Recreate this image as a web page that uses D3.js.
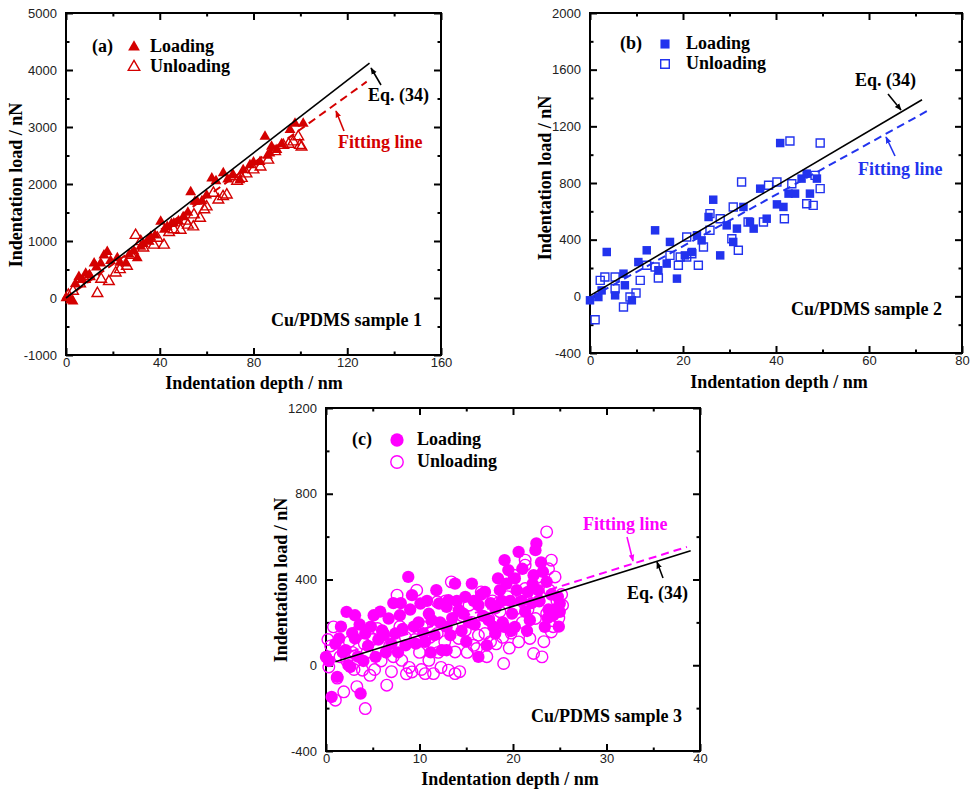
<!DOCTYPE html>
<html>
<head>
<meta charset="utf-8">
<script src="https://cdn.jsdelivr.net/npm/d3@7/dist/d3.min.js"></script>
<style>
  html, body { margin: 0; padding: 0; background: #fff; }
  svg { display: block; }
</style>
</head>
<body>
<svg id="chart" width="971" height="791"></svg>
<script>
// ---------------- DATA ----------------
// Panel (a): Cu/PDMS sample 1
const aLoading = [[0,0],[2,-40],[3,-60],[4,250],[5.5,370],[7,320],[8.4,430],[10,400],[12,610],[13,540],
  [14.8,610],[16.2,750],[17.6,810],[19,650],[21.9,700],[23,620],[25.5,610],[27,760],[29,820],[30.4,700],
  [31.9,900],[33,950],[35,1000],[36.1,1075],[38,1100],[40.4,1340],[42,1200],[43.2,1250],[45,1300],[46,1310],
  [48,1350],[50,1420],[52,1500],[53.2,1860],[55,1690],[56,1690],[58,1700],[60,1800],[62.2,2100],[64,2050],
  [67.1,2190],[69,2080],[71,2150],[74.2,2070],[75.6,2245],[78.5,2330],[80,2380],[82.8,2390],[84.9,2830],[86,2500],
  [87,2540],[87.7,2655],[90,2600],[92,2700],[95.6,2950],[97.7,3060],[101.2,3060]];
const aUnloading = [[1,50],[3,120],[6,250],[8,330],[10,380],[13.4,80],[15,330],[18.3,290],[21.2,440],[23,500],
  [26,560],[28,750],[29.7,1100],[31.9,990],[33,880],[35,1000],[37.5,930],[39,1050],[41.8,930],[44,1150],
  [46,1200],[48.9,1190],[51,1350],[52,1280],[54.3,1250],[54.6,1460],[57.2,1400],[59,1550],[60,1600],[62.9,1840],
  [65,1720],[67,1780],[68.6,1810],[71.4,2130],[73,2050],[75,2100],[77,2180],[80,2250],[83,2300],[86.3,2420],
  [89.2,2570],[92.7,2680],[95,2700],[97,2740],[99.1,2830],[99.8,2680],[100.5,2650]];
const aEqLine = [[0,0],[129.5,4120]];
const aFitLine = [[0,0],[128.3,3795]];
const aXTicks = [0,40,80,120,160];
const aXMinor = [20,60,100,140];
const aYTicks = [-1000,0,1000,2000,3000,4000,5000];
const aYMinor = [-500,500,1500,2500,3500,4500];

// Panel (b): Cu/PDMS sample 2
const bLoading = [[0,-28],[1.8,-5],[3.6,313],[2.5,42],[5.4,7],[7.2,160],[7.5,78],[9,-28],[10.4,242],[12.2,325],
  [14,466],[14.7,184],[16.5,231],[17.2,384],[18.7,125],[20.4,289],[21.9,313],[23,431],[24,395],[25.5,560],
  [26.5,682],[28,289],[29.4,501],[30.8,384],[31.6,478],[33,631],[34.4,525],[35.2,478],[36.6,760],[38,548],
  [40.2,649],[40.9,1082],[41.6,631],[42.7,725],[44.1,725],[45.5,831],[46.6,866],[47.3,725],[48.8,831]];
const bUnloading = [[1.1,-165],[2.2,113],[3.2,136],[5.4,136],[5.4,54],[7.2,-75],[8.6,-5],[9.9,24],[10.8,113],[12.2,219],
  [14,207],[14.7,129],[17.2,289],[19,219],[19.4,278],[20.8,419],[20.8,278],[21.9,301],[23.3,219],[24.4,348],
  [25.8,584],[25.8,466],[28,548],[30.5,407],[30.8,631],[31.9,325],[32.6,807],[34,525],[37.3,525],[38.4,784],
  [40.2,807],[41.8,548],[43,1096],[43.4,795],[46.6,654],[48,642],[48.4,854],[49.5,1082],[49.5,760]];
const bEqLine = [[0,5],[71.4,1388]];
const bFitLine = [[0,-10],[72.5,1308]];
const bXTicks = [0,20,40,60,80];
const bXMinor = [10,30,50,70];
const bYTicks = [-400,0,400,800,1200,1600,2000];
const bYMinor = [-200,200,600,1000,1400,1800];

// Panel (c): Cu/PDMS sample 3
const cLoading = [[0,39],[0.3,20],[0.6,-148],[1.2,-54],[1.4,125],[1.8,60],[2.1,70],[2.2,249],[2.6,-8],[2.8,150],
  [3.1,233],[3.1,125],[3.4,40],[3.7,-132],[4.2,148],[4.5,90],[5.1,233],[5.3,39],[5.6,120],[6,163],
  [6.4,60],[6.7,218],[7.0,100],[7.4,148],[7.9,233],[8.2,170],[8.5,93],[8.8,412],[9.0,260],[9.2,327],
  [9.6,101],[9.9,200],[10.1,288],[10.4,150],[10.6,109],[11,240],[11.3,210],[11.6,140],[12.1,288],[12.4,70],
  [12.9,272],[12.9,179],[12.9,70],[13.1,303],[13.5,220],[13.8,381],[14.2,257],[14.5,160],[14.9,319],[15.3,200],
  [15.6,381],[15.8,300],[16.3,280],[16.3,39],[16.8,230],[17,342],[17.2,93],[17.6,290],[18.1,265],[18.1,148],
  [18.4,405],[18.6,350],[18.9,200],[19.1,490],[19.1,179],[19.5,444],[19.9,241],[20.2,405],[20.2,179],[20.6,529],
  [20.9,300],[21.3,250],[21.6,342],[21.8,210],[22.1,380],[22.4,537],[22.5,568],[22.8,300],[23.2,436],[23.4,179],
  [23.6,389],[23.8,260],[24.1,330],[24.3,233],[24.8,319],[25,288],[25,249],
  [1,100],[1.6,180],[2.4,0],[3.6,190],[4,20],[4.8,180],[5.8,250],[6.2,140],[7.2,290],[7.7,60],
  [8,290],[9.4,180],[10.8,300],[11.2,60],[11.8,350],[12.2,200],[13.3,140],[14,300],[14.7,240],[15,110],
  [15.9,190],[16.6,330],[17.4,210],[17.9,180],[18.8,300],[19.3,380],[19.7,300],[20.4,350],[21,450],[21.5,160],
  [22,290],[22.7,350],[23.0,480],[23.7,220],[24.5,260],[24.9,180],[22.2,420],[19.8,160]];
const cUnloading = [[0.3,-8],[0.5,90],[0.8,179],[1,-163],[1.5,40],[1.9,-124],[2.2,23],[2.5,110],[3.0,-20],[3.5,163],
  [3.9,-23],[4.2,-202],[4.4,60],[4.7,-47],[5.0,120],[5.5,171],[5.9,20],[6.5,-93],[6.8,90],[7.2,40],
  [7.6,327],[8.1,23],[8.5,130],[8.9,-10],[9.2,-31],[9.7,350],[10.0,60],[10.3,180],[10.6,-39],[11,23],
  [11.5,-39],[11.9,148],[11.9,296],[12.3,-10],[12.7,110],[13.1,-23],[13.4,389],[13.8,62],[13.8,-39],[14.2,125],
  [14.6,230],[14.9,163],[15.3,280],[15.8,93],[16.1,78],[16.6,342],[17,148],[17.4,218],[17.8,300],[18.2,100],
  [18.6,250],[19,8],[19.4,320],[19.8,150],[20.2,260],[20.6,109],[21,200],[21.3,490],[21.3,467],[21.3,358],
  [21.8,125],[22.2,55],[22.4,218],[22.8,300],[23.1,39],[23.6,622],[23.6,241],[23.9,350],[24.1,490],[24.1,155],
  [24.5,412],[24.7,300],[25.2,330],
  [0.2,120],[1.2,-60],[2.8,60],[3.3,-100],[4.1,100],[5.2,-20],[6.1,150],[7.0,-30],[7.9,180],[8.6,-40],
  [9.5,120],[10.2,-20],[11.1,130],[12,60],[12.8,300],[13.5,180],[14.3,-30],[15.1,60],[15.6,200],[16.3,140],
  [17.2,40],[17.6,110],[18.4,290],[18.9,130],[19.6,80],[20.1,420],[20.9,330],[21.6,260],[22.6,410],[23.3,110],
  [23.8,450],[24.3,180],[24.9,220],[25.3,280]];
const cEqLine = [[1,16],[39,534]];
const cFitLine = [[0,28],[38.6,552]];
const cXTicks = [0,10,20,30,40];
const cXMinor = [5,15,25,35];
const cYTicks = [-400,0,400,800,1200];
const cYMinor = [-200,200,600,1000];

const xTitle = "Indentation depth / nm";
const yTitle = "Indentation load / nN";
const legendLabels = ["Loading", "Unloading"];
const eqLabel = "Eq. (34)";
const fitLabel = "Fitting line";

// ---------------- DRAWING ----------------
const svg = d3.select("#chart");
svg.append("rect").attr("width", 971).attr("height", 791).attr("fill", "#fff");

const defs = svg.append("defs");
function arrowMarker(id, color) {
  defs.append("marker").attr("id", id).attr("viewBox", "0 0 10 10")
    .attr("refX", 9).attr("refY", 5).attr("markerWidth", 7).attr("markerHeight", 7)
    .attr("markerUnits", "userSpaceOnUse").attr("orient", "auto")
    .append("path").attr("d", "M0,1 L10,5 L0,9 z").attr("fill", color);
}

const SERIF = "'Liberation Serif','Times New Roman',Times,serif";
const SANS = "'Liberation Sans',Arial,Helvetica,sans-serif";

function drawPanel(cfg) {
  const x = d3.scaleLinear().domain(cfg.xDomain).range([cfg.left, cfg.right]);
  const y = d3.scaleLinear().domain(cfg.yDomain).range([cfg.bottom, cfg.top]);
  const g = svg.append("g");
  const fmt = d => String(d);

  // ticks on all four sides, pointing inward
  const addAxis = (axisFn, scale, pos, ticks, size, labels, pad) => {
    const ax = axisFn(scale).tickValues(ticks).tickSize(size).tickSizeOuter(0)
      .tickPadding(pad || 6).tickFormat(labels ? fmt : () => "");
    const ag = g.append("g").attr("transform", pos).call(ax);
    ag.select(".domain").remove();
    ag.selectAll(".tick line").attr("stroke", "#000").attr("stroke-width", 2);
    ag.selectAll("text").attr("font-family", SANS).attr("font-size", 13).attr("fill", "#222");
    return ag;
  };
  addAxis(d3.axisBottom, x, `translate(0,${cfg.bottom})`, cfg.xTicks, -7, true, 3);
  addAxis(d3.axisBottom, x, `translate(0,${cfg.bottom})`, cfg.xMinor, -3.5, false);
  addAxis(d3.axisTop, x, `translate(0,${cfg.top})`, cfg.xTicks, -7, false);
  addAxis(d3.axisTop, x, `translate(0,${cfg.top})`, cfg.xMinor, -3.5, false);
  addAxis(d3.axisLeft, y, `translate(${cfg.left},0)`, cfg.yTicks, -7, true, 9);
  addAxis(d3.axisLeft, y, `translate(${cfg.left},0)`, cfg.yMinor, -3.5, false);
  addAxis(d3.axisRight, y, `translate(${cfg.right},0)`, cfg.yTicks, -7, false);
  addAxis(d3.axisRight, y, `translate(${cfg.right},0)`, cfg.yMinor, -3.5, false);

  // frame
  g.append("rect").attr("x", cfg.left).attr("y", cfg.top)
    .attr("width", cfg.right - cfg.left).attr("height", cfg.bottom - cfg.top)
    .attr("fill", "none").attr("stroke", "#000").attr("stroke-width", 2);

  const line = d3.line().x(d => x(d[0])).y(d => y(d[1]));

  // fitting (dashed) line
  g.append("path").datum(cfg.fit).attr("d", line).attr("fill", "none")
    .attr("stroke", cfg.color).attr("stroke-width", 2).attr("stroke-dasharray", "8,5");

  // points
  const sym = d3.symbol().type(cfg.symbol);
  g.append("g").selectAll("path").data(cfg.unloading).join("path")
    .attr("transform", d => `translate(${x(d[0])},${y(d[1])})`)
    .attr("d", sym.size(cfg.openSize)()).attr("fill", "none")
    .attr("stroke", cfg.color).attr("stroke-width", 1.4);
  g.append("g").selectAll("path").data(cfg.loading).join("path")
    .attr("transform", d => `translate(${x(d[0])},${y(d[1])})`)
    .attr("d", sym.size(cfg.fillSize)()).attr("fill", cfg.color);

  // Eq. (34) line
  g.append("path").datum(cfg.eq).attr("d", line).attr("fill", "none")
    .attr("stroke", "#000").attr("stroke-width", 1.6);

  // axis titles
  g.append("text").attr("x", cfg.xTitle[0]).attr("y", cfg.xTitle[1]).attr("text-anchor", "middle")
    .attr("font-family", SERIF).attr("font-weight", "bold").attr("font-size", 18).text(xTitle);
  g.append("text").attr("transform", `translate(${cfg.yTitle[0]},${cfg.yTitle[1]}) rotate(-90)`)
    .attr("text-anchor", "middle")
    .attr("font-family", SERIF).attr("font-weight", "bold").attr("font-size", 18).text(yTitle);

  // legend
  const lg = cfg.legend;
  g.append("text").attr("x", lg.labelX).attr("y", lg.y1).attr("font-family", SERIF)
    .attr("font-weight", "bold").attr("font-size", 18).text(cfg.tag);
  g.append("path").attr("transform", `translate(${lg.symX},${lg.y1 - 5})`)
    .attr("d", sym.size(cfg.fillSize * 1.15)()).attr("fill", cfg.color);
  g.append("path").attr("transform", `translate(${lg.symX},${lg.y2 - 5})`)
    .attr("d", sym.size(cfg.openSize * 1.15)()).attr("fill", "none")
    .attr("stroke", cfg.color).attr("stroke-width", 1.4);
  g.append("text").attr("x", lg.textX).attr("y", lg.y1).attr("font-family", SERIF)
    .attr("font-weight", "bold").attr("font-size", 18).text(legendLabels[0]);
  g.append("text").attr("x", lg.textX).attr("y", lg.y2).attr("font-family", SERIF)
    .attr("font-weight", "bold").attr("font-size", 18).text(legendLabels[1]);

  // sample label
  g.append("text").attr("x", cfg.sample[0]).attr("y", cfg.sample[1]).attr("text-anchor", "end")
    .attr("font-family", SERIF).attr("font-weight", "bold").attr("font-size", 18).text(cfg.sampleText);

  // annotations
  const an = cfg.ann;
  g.append("text").attr("x", an.eqText[0]).attr("y", an.eqText[1]).attr("font-family", SERIF)
    .attr("font-weight", "bold").attr("font-size", 18).attr("fill", "#000").text(eqLabel);
  g.append("line").attr("x1", an.eqArrow[0]).attr("y1", an.eqArrow[1])
    .attr("x2", an.eqArrow[2]).attr("y2", an.eqArrow[3])
    .attr("stroke", "#000").attr("stroke-width", 1.6).attr("marker-end", "url(#arrow-black)");
  g.append("text").attr("x", an.fitText[0]).attr("y", an.fitText[1]).attr("font-family", SERIF)
    .attr("font-weight", "bold").attr("font-size", 18).attr("fill", cfg.color).text(fitLabel);
  g.append("line").attr("x1", an.fitArrow[0]).attr("y1", an.fitArrow[1])
    .attr("x2", an.fitArrow[2]).attr("y2", an.fitArrow[3])
    .attr("stroke", cfg.color).attr("stroke-width", 1.6).attr("marker-end", `url(#arrow-${cfg.id})`);
}

const RED = "#d40000", BLUE = "#2233ee", MAGENTA = "#ff00ff";
arrowMarker("arrow-black", "#000");
arrowMarker("arrow-a", RED);
arrowMarker("arrow-b", BLUE);
arrowMarker("arrow-c", MAGENTA);

drawPanel({
  id: "a", color: RED, symbol: d3.symbolTriangle, fillSize: 52, openSize: 50,
  xDomain: [0, 160], yDomain: [-1000, 5000], left: 66, right: 441, top: 13, bottom: 355,
  xTicks: aXTicks, xMinor: aXMinor, yTicks: aYTicks, yMinor: aYMinor,
  loading: aLoading, unloading: aUnloading, eq: aEqLine, fit: aFitLine,
  xTitle: [254, 389], yTitle: [22, 185], tag: "(a)",
  legend: { labelX: 92, symX: 134, textX: 150, y1: 52, y2: 72 },
  sample: [422, 326], sampleText: "Cu/PDMS sample 1",
  ann: { eqText: [368, 101], eqArrow: [381, 85, 371, 68], fitText: [338, 148], fitArrow: [344, 131, 336, 111] }
});

drawPanel({
  id: "b", color: BLUE, symbol: d3.symbolSquare, fillSize: 72, openSize: 64,
  xDomain: [0, 80], yDomain: [-400, 2000], left: 590, right: 962, top: 13, bottom: 353,
  xTicks: bXTicks, xMinor: bXMinor, yTicks: bYTicks, yMinor: bYMinor,
  loading: bLoading, unloading: bUnloading, eq: bEqLine, fit: bFitLine,
  xTitle: [779, 388], yTitle: [551, 178], tag: "(b)",
  legend: { labelX: 620, symX: 665, textX: 686, y1: 49, y2: 69 },
  sample: [942, 315], sampleText: "Cu/PDMS sample 2",
  ann: { eqText: [855, 86], eqArrow: [888, 94, 901, 110], fitText: [858, 175], fitArrow: [895, 156, 886, 137] }
});

drawPanel({
  id: "c", color: MAGENTA, symbol: d3.symbolCircle, fillSize: 120, openSize: 105,
  xDomain: [0, 40], yDomain: [-400, 1200], left: 326, right: 700, top: 408, bottom: 751,
  xTicks: cXTicks, xMinor: cXMinor, yTicks: cYTicks, yMinor: cYMinor,
  loading: cLoading, unloading: cUnloading, eq: cEqLine, fit: cFitLine,
  xTitle: [510, 785], yTitle: [287, 580], tag: "(c)",
  legend: { labelX: 352, symX: 397, textX: 417, y1: 445, y2: 467 },
  sample: [682, 722], sampleText: "Cu/PDMS sample 3",
  ann: { eqText: [627, 599], eqArrow: [663, 578, 657, 562], fitText: [583, 530], fitArrow: [627, 537, 633, 561] }
});
</script>
</body>
</html>
